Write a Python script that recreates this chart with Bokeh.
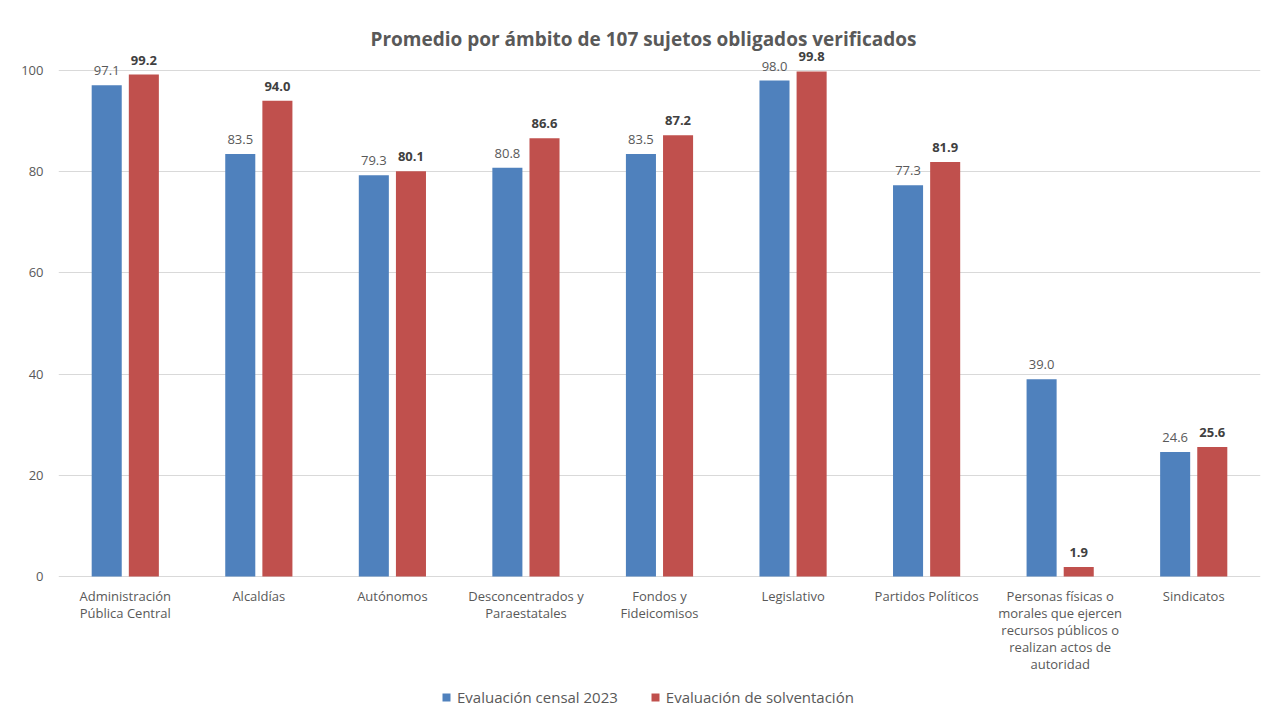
from bokeh.plotting import figure
from bokeh.models import (ColumnDataSource, Legend, LegendItem, FactorRange, FixedTicker,
                          LabelSet, Label, Range1d)
from bokeh.transform import dodge
from bokeh.embed import file_html
from bokeh.resources import INLINE
from bokeh.core.properties import value

categories = [
    "Administración\nPública Central",
    "Alcaldías",
    "Autónomos",
    "Desconcentrados y\nParaestatales",
    "Fondos y\nFideicomisos",
    "Legislativo",
    "Partidos Políticos",
    "Personas físicas o\nmorales que ejercen\nrecursos públicos o\nrealizan actos de\nautoridad",
    "Sindicatos",
]
censal_2023 = [97.1, 83.5, 79.3, 80.8, 83.5, 98.0, 77.3, 39.0, 24.6]
solventacion = [99.2, 94.0, 80.1, 86.6, 87.2, 99.8, 81.9, 1.9, 25.6]
series_names = ["Evaluación censal 2023", "Evaluación de solventación"]
y_ticks = [0, 20, 40, 60, 80, 100]
title_text = "Promedio por ámbito de 107 sujetos obligados verificados"

FONT = "Open Sans"
BLUE = "#4F81BD"
RED = "#C0504D"
LINE_PX = 17

src = ColumnDataSource(dict(
    cat=categories,
    a=censal_2023,
    b=solventacion,
    a_lbl=[f"{v:.1f}" for v in censal_2023],
    b_lbl=[f"{v:.1f}" for v in solventacion],
))

# one entry per wrapped line of each category label, so each line is centred
line_cat, line_txt, line_off = [], [], []
for c in categories:
    for i, t in enumerate(c.split("\n")):
        line_cat.append(c)
        line_txt.append(t)
        line_off.append(-10 - LINE_PX * i)
lines_src = ColumnDataSource(dict(cat=line_cat, txt=line_txt, off=line_off,
                                  zero=[0] * len(line_cat)))

p = figure(
    width=1265, height=709,
    x_range=FactorRange(*categories, range_padding=0),
    y_range=Range1d(-26.28, 113.83),
    output_backend="svg", toolbar_location=None,
    min_border_left=58, min_border_right=5, min_border_top=0, min_border_bottom=0,
)

r1 = p.vbar(x=dodge("cat", -0.139, range=p.x_range), top="a", width=0.225,
            source=src, color=BLUE, line_color=None)
r2 = p.vbar(x=dodge("cat", 0.139, range=p.x_range), top="b", width=0.225,
            source=src, color=RED, line_color=None)

l1 = LabelSet(x=dodge("cat", -0.139, range=p.x_range), y="a", text="a_lbl", source=src,
              text_align="center", text_baseline="bottom", y_offset=10,
              text_font=value(FONT), text_font_size="13px", text_color="#595959")
l2 = LabelSet(x=dodge("cat", 0.139, range=p.x_range), y="b", text="b_lbl", source=src,
              text_align="center", text_baseline="bottom", y_offset=10,
              text_font=value(FONT), text_font_size="13px", text_font_style="bold",
              text_color="#404040")
cat_lbl = LabelSet(x="cat", y="zero", text="txt", source=lines_src, y_offset="off",
                   text_align="center", text_baseline="top",
                   text_font=value(FONT), text_font_size="13px", text_color="#595959")
p.add_layout(l1)
p.add_layout(l2)
p.add_layout(cat_lbl)

title = Label(x=2.336, y=106.3, text=title_text, text_align="left", text_baseline="middle",
              text_font=FONT, text_font_size="19px", text_font_style="bold",
              text_color="#595959")
p.add_layout(title)

p.yaxis.ticker = FixedTicker(ticks=y_ticks)
p.yaxis.axis_line_color = None
p.yaxis.major_tick_line_color = None
p.yaxis.minor_tick_line_color = None
p.yaxis.major_label_text_font = FONT
p.yaxis.major_label_text_font_size = "13px"
p.yaxis.major_label_text_color = "#595959"
p.yaxis.major_label_standoff = 9

p.xaxis.visible = False
p.xgrid.grid_line_color = None
p.ygrid.grid_line_color = "#d9d9d9"
p.outline_line_color = None

legend = Legend(items=[
    LegendItem(label=series_names[0], renderers=[r1]),
    LegendItem(label=series_names[1], renderers=[r2]),
], orientation="horizontal", location=(383, 2),
    label_text_font=FONT, label_text_font_size="15px", label_text_color="#595959",
    glyph_width=10, glyph_height=10, spacing=32, border_line_color=None,
    background_fill_alpha=0, padding=0, margin=0, label_standoff=6)
p.add_layout(legend)

open("out.html", "w").write(file_html(p, INLINE))
